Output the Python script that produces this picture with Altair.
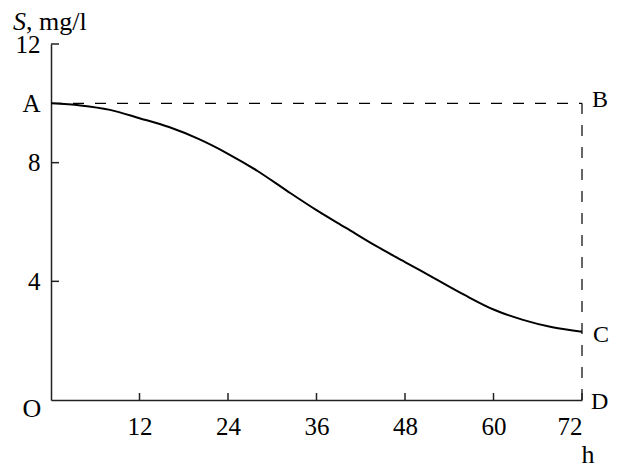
import altair as alt
import pandas as pd

# Curve S(t)
hours = [0, 4, 8, 12, 16, 20, 24, 28, 32, 36, 40, 44, 48, 52, 56, 60, 64, 68, 72]
conc = [10.0, 9.93, 9.78, 9.5, 9.2, 8.8, 8.3, 7.72, 7.05, 6.4, 5.8, 5.2, 4.65, 4.1, 3.55, 3.05, 2.7, 2.45, 2.3]

x_ticks = [12, 24, 36, 48, 60, 72]
y_ticks = [4, 8, 12]
y_labels = [4, 8, 10, 12]

# dashed guide lines: A-B (S = 10) and B-D (t = 72)
level_A = 10
t_end = 72

# point labels
pt_names = ["B", "C", "D"]
pt_t = [72, 72, 72]
pt_s = [10, 2.3, 0]
pt_dx = [10, 11, 9]
pt_dy = [-3, 3, 2]

FONT = "Liberation Serif"
FS_NUM = 25
FS_TXT = 26
FS_PT = 24
W, H = 531, 356

xs = alt.Scale(domain=[0, 72], nice=False, zero=True)
ys = alt.Scale(domain=[0, 12], nice=False, zero=True)
xaxis = alt.Axis(values=x_ticks, ticks=False, grid=False, title=None,
                 labelPadding=14, domainColor="#222", domainWidth=1.5,
                 labelFont=FONT, labelFontSize=FS_NUM, labelColor="black")
yaxis = alt.Axis(values=y_labels, ticks=False, grid=False, title=None,
                 labelPadding=11, domainColor="#222", domainWidth=1.5,
                 labelExpr="datum.value == 10 ? 'A' : datum.label",
                 labelFont=FONT, labelFontSize=FS_NUM, labelColor="black")


def X(f):
    return alt.X(f, scale=xs, axis=xaxis)


def Y(f):
    return alt.Y(f, scale=ys, axis=yaxis)


curve = pd.DataFrame({"t": hours, "s": conc})
line = alt.Chart(curve).mark_line(color="black", strokeWidth=2, interpolate="monotone").encode(
    x=X("t:Q"), y=Y("s:Q"))

hrule = alt.Chart(pd.DataFrame({"t": [0], "t2": [t_end], "s": [level_A]})).mark_rule(
    color="black", strokeWidth=1.2, strokeDash=[11, 11]).encode(
    x=X("t:Q"), x2="t2:Q", y=Y("s:Q"))

vrule = alt.Chart(pd.DataFrame({"t": [t_end], "s": [0], "s2": [level_A]})).mark_rule(
    color="black", strokeWidth=1.2, strokeDash=[11, 11]).encode(
    x=X("t:Q"), y=Y("s:Q"), y2="s2:Q")

yt = alt.Chart(pd.DataFrame({"s": y_ticks})).mark_rule(color="#222", strokeWidth=1.5).encode(
    y=Y("s:Q"), x=alt.value(0), x2=alt.value(8))

xt = alt.Chart(pd.DataFrame({"t": x_ticks})).mark_rule(color="#222", strokeWidth=1.5).encode(
    x=X("t:Q"), y=alt.value(H), y2=alt.value(H - 7))

pt_layers = []
for n, t, s, dx, dy in zip(pt_names, pt_t, pt_s, pt_dx, pt_dy):
    pt_layers.append(alt.Chart(pd.DataFrame({"n": [n], "t": [t], "s": [s]})).mark_text(
        font=FONT, fontSize=FS_PT, align="left", baseline="middle", dx=dx, dy=dy, color="black").encode(
        x=X("t:Q"), y=Y("s:Q"), text="n:N"))

origin = alt.Chart(pd.DataFrame({"n": ["O"], "t": [0], "s": [0]})).mark_text(
    font=FONT, fontSize=FS_TXT, align="center", baseline="middle", dx=-19, dy=9, color="black").encode(
    x=X("t:Q"), y=Y("s:Q"), text="n:N")

hlab = alt.Chart(pd.DataFrame({"n": ["h"], "t": [72], "s": [0]})).mark_text(
    font=FONT, fontSize=FS_TXT, align="center", baseline="middle", dx=6, dy=55, color="black").encode(
    x=X("t:Q"), y=Y("s:Q"), text="n:N")

title_s = alt.Chart(pd.DataFrame({"n": ["S"]})).mark_text(
    font=FONT, fontSize=26, fontStyle="italic", align="left", baseline="alphabetic", color="black").encode(
    x=alt.value(-38), y=alt.value(-14), text="n:N")
title_r = alt.Chart(pd.DataFrame({"n": [", mg/l"]})).mark_text(
    font=FONT, fontSize=26, align="left", baseline="alphabetic", color="black").encode(
    x=alt.value(-25), y=alt.value(-14), text="n:N")

chart = alt.layer(line, hrule, vrule, yt, xt, *pt_layers, origin, hlab, title_s, title_r).properties(
    width=W, height=H,
    autosize=alt.AutoSizeParams(type="none"),
    padding={"left": 43, "top": 36, "right": 27, "bottom": 70},
).configure_view(stroke=None)

chart.save("out.html", embed_options={"renderer": "svg", "actions": False})
